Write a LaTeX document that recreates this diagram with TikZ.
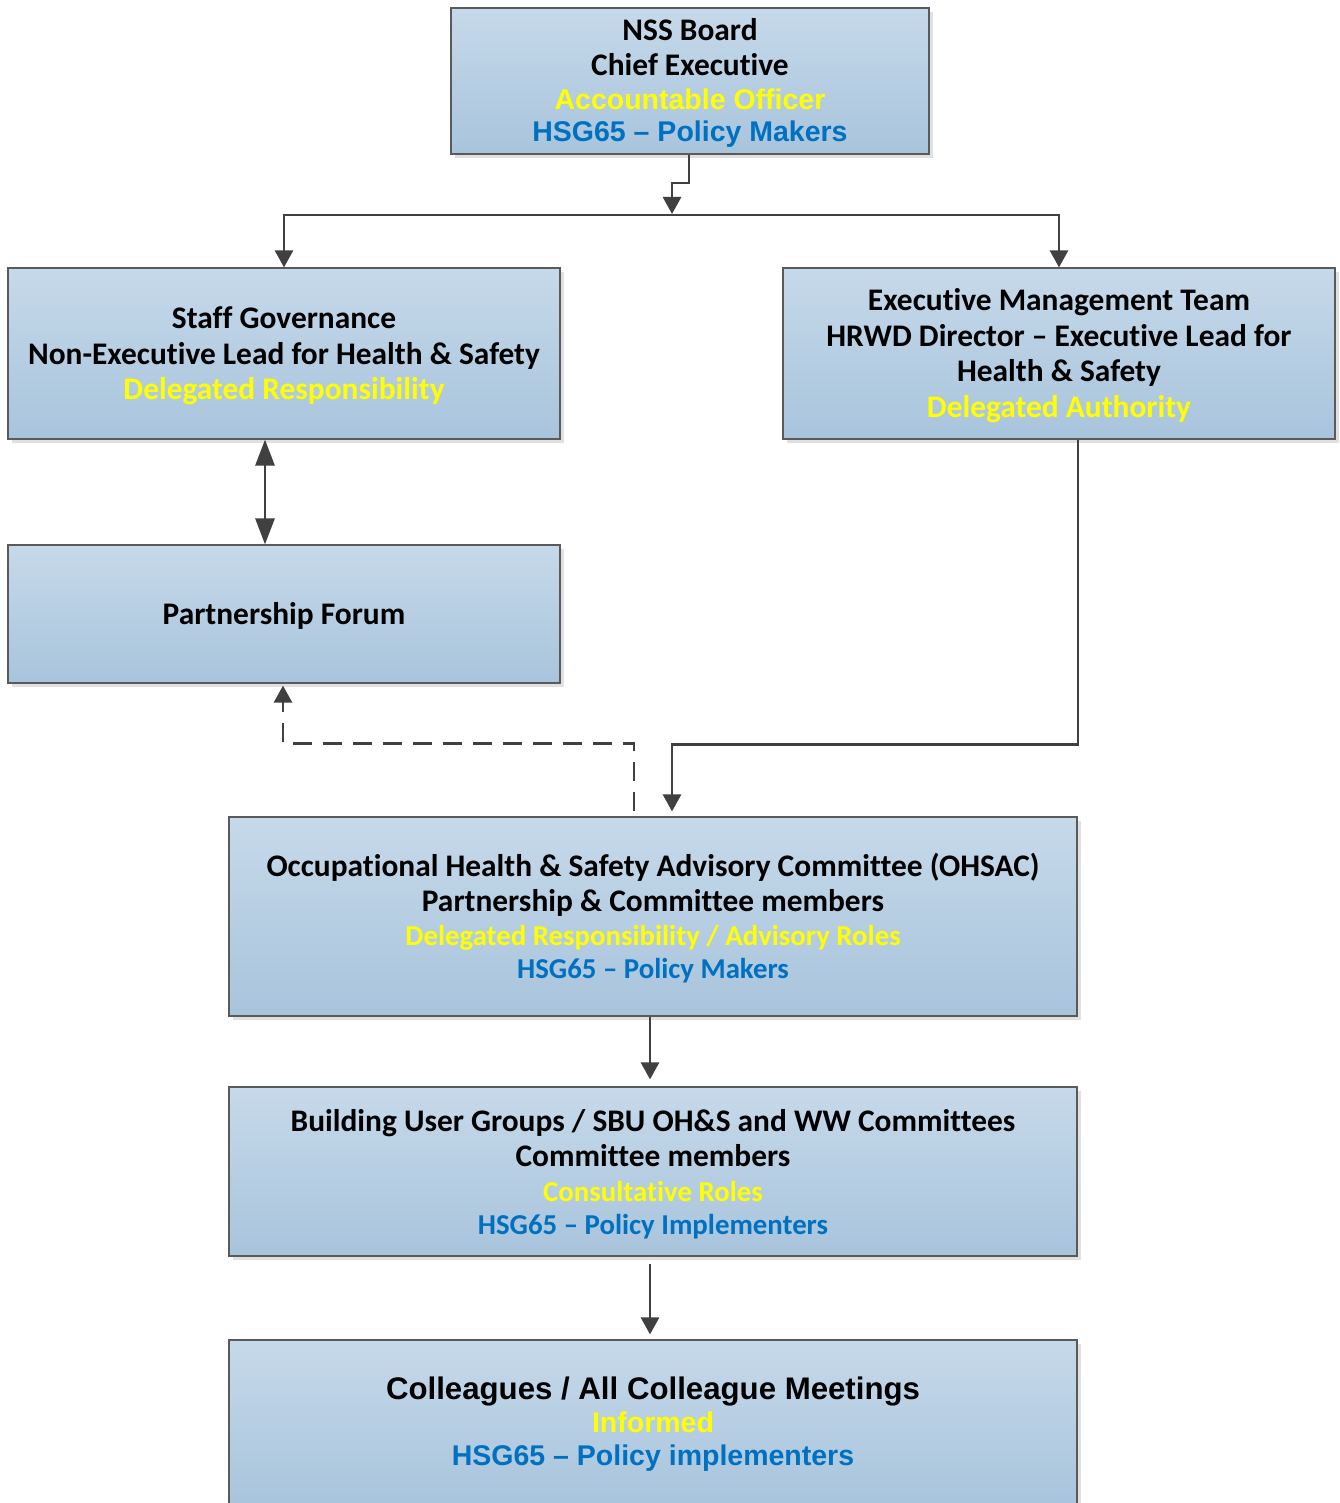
\documentclass[tikz,border=0pt]{standalone}
\usepackage{fontspec}
\setmainfont{Carlito}[Ligatures={NoCommon}]
\newfontfamily\arialf{Liberation Sans}
\usetikzlibrary{arrows.meta,shadows}
\definecolor{lnc}{HTML}{404040}
\definecolor{ylw}{HTML}{FFFF00}
\definecolor{blu}{HTML}{0070C0}
\definecolor{boxtop}{HTML}{C6D9EA}
\definecolor{boxbot}{HTML}{A8C4DC}
\definecolor{boxln}{HTML}{5A5A5A}
\newcommand\smallline{\fontsize{28.8}{35.5}\selectfont}
\newcommand\arialline{\arialf\fontsize{28.5}{34}\selectfont}
\begin{document}
\begin{tikzpicture}[x=1pt,y=-1pt,
  box/.style={draw=boxln, line width=1.2pt, top color=boxtop, bottom color=boxbot,
    drop shadow={shadow xshift=4pt, shadow yshift=-4pt, fill=black!12, opacity=1},
    inner sep=0pt},
  txt/.style={inner sep=0pt, align=center, font=\bfseries\fontsize{31.4}{35.5}\selectfont},
  tip/.tip={Triangle[length=17pt,width=18pt]},
  bigtip/.tip={Triangle[length=26pt,width=19pt]},
  conn/.style={draw=lnc, line width=2.8pt, -tip},
  plain/.style={draw=lnc, line width=2.8pt},
  dsh/.style={dash pattern=on 19pt off 11pt}
]
\useasboundingbox (0,0) rectangle (1339,1503);
\fill[white] (0,0) rectangle (1339,1503);

% boxes
\node[box, minimum width=478pt, minimum height=146pt] (top) at (690,81) {};
\node[box, minimum width=552pt, minimum height=171pt] (sg) at (284,353.5) {};
\node[box, minimum width=552pt, minimum height=171pt] (emt) at (1059,353.5) {};
\node[box, minimum width=552pt, minimum height=138pt] (pf) at (284,614) {};
\node[box, minimum width=848pt, minimum height=199pt] (oh) at (653,916.5) {};
\node[box, minimum width=848pt, minimum height=169pt] (bu) at (653,1171.5) {};
\node[box, minimum width=848pt, minimum height=165pt] (co) at (653,1422.5) {};

% texts
\node[txt] (topt) at ([yshift=-2pt]top.center)
  {NSS Board\\Chief Executive\\[-1.5pt]{\arialline\color{ylw}Accountable Officer}\\[-3.5pt]{\arialline\color{blu}HSG65 – Policy Makers}};
\node[txt] (sgt) at ([yshift=-2.5pt]sg.center)
  {Staff Governance\\Non-Executive Lead for Health \& Safety\\{\color{ylw}Delegated Responsibility}};
\node[txt] (emtt) at ([yshift=-2.25pt]emt.center)
  {Executive Management Team\\HRWD Director – Executive Lead for\\Health \& Safety\\{\color{ylw}Delegated Authority}};
\node[txt] (pft) at ([yshift=-2pt]pf.center) {Partnership Forum};
\node[txt] (oht) at ([yshift=-1.5pt]oh.center)
  {Occupational Health \& Safety Advisory Committee (OHSAC)\\[-0.5pt]Partnership \& Committee members\\[-1.5pt]{\smallline\color{ylw}Delegated Responsibility / Advisory Roles}\\[-2.5pt]{\smallline\color{blu}HSG65 – Policy Makers}};
\node[txt] (but) at ([yshift=-2.5pt]bu.center)
  {Building User Groups / SBU OH\&S and WW Committees\\Committee members\\[-1pt]{\smallline\color{ylw}Consultative Roles}\\[-2.5pt]{\smallline\color{blu}HSG65 – Policy Implementers}};
\node[txt, font=\bfseries\arialf\fontsize{28.5}{33}\selectfont] (cot) at ([yshift=-2pt]co.center)
  {{\fontsize{31.2}{33}\selectfont Colleagues / All Colleague Meetings}\\{\color{ylw}Informed}\\{\color{blu}HSG65 – Policy implementers}};

% connectors
\coordinate (j) at (672,215);
\coordinate (k) at (672,183);
\draw[conn] ([xshift=-1pt]top.south) -- ([xshift=-1pt]top.south |- k) -- (k) -- ([yshift=1pt]j);
\draw[plain, tip-tip] (sg.north) -- (sg.north |- j) -- (emt.north |- j) -- (emt.north);
\draw[plain, bigtip-bigtip] ([xshift=-19pt]sg.south) -- ([xshift=-19pt]pf.north);
\draw[conn] ([xshift=19pt]emt.south) -- ++(0,305) -| ([xshift=19pt,yshift=5pt]oh.north);
\draw[conn, dsh] ([xshift=-19pt,yshift=5pt]oh.north) -- ++(0,-68) -| ([xshift=-1pt,yshift=-2pt]pf.south);
\draw[conn] ([xshift=-3pt]oh.south) -- ([xshift=-3pt,yshift=7pt]bu.north);
\draw[conn] ([xshift=-3pt,yshift=-7pt]bu.south) -- ([xshift=-3pt,yshift=5pt]co.north);
\end{tikzpicture}
\end{document}
